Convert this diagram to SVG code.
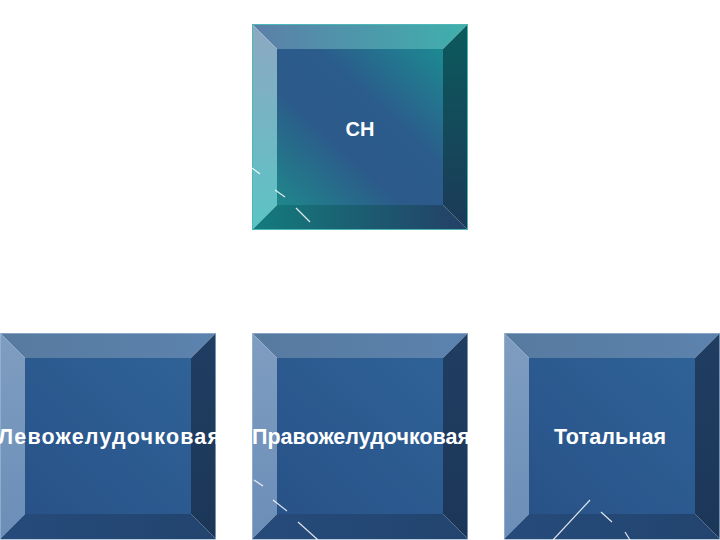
<svg xmlns="http://www.w3.org/2000/svg" width="720" height="540" viewBox="0 0 720 540">
  <defs>
    <!-- top (teal) box -->
    <linearGradient id="tTop" x1="0" y1="0" x2="1" y2="0">
      <stop offset="0" stop-color="#5c7fa8"/>
      <stop offset="1" stop-color="#3fb0ad"/>
    </linearGradient>
    <linearGradient id="tLeft" x1="0" y1="0" x2="0" y2="1">
      <stop offset="0" stop-color="#8ea8c2"/>
      <stop offset="1" stop-color="#5ac4c4"/>
    </linearGradient>
    <linearGradient id="tRight" x1="0" y1="0" x2="0" y2="1">
      <stop offset="0" stop-color="#0b5a5c"/>
      <stop offset="1" stop-color="#1c3a58"/>
    </linearGradient>
    <linearGradient id="tBottom" x1="0" y1="0" x2="1" y2="0">
      <stop offset="0" stop-color="#137c7d"/>
      <stop offset="1" stop-color="#243f66"/>
    </linearGradient>
    <linearGradient id="tFace" x1="1" y1="0" x2="0" y2="1">
      <stop offset="0" stop-color="#1d8a92"/>
      <stop offset="0.38" stop-color="#2b5c8b"/>
      <stop offset="0.62" stop-color="#2c5a8a"/>
      <stop offset="1" stop-color="#1f878b"/>
    </linearGradient>
    <!-- bottom (blue) boxes -->
    <linearGradient id="bTop" x1="0" y1="0" x2="1" y2="0">
      <stop offset="0" stop-color="#577a9f"/>
      <stop offset="1" stop-color="#5c83ae"/>
    </linearGradient>
    <linearGradient id="bLeft" x1="0" y1="0" x2="0" y2="1">
      <stop offset="0" stop-color="#7f9dc0"/>
      <stop offset="1" stop-color="#6b8eb8"/>
    </linearGradient>
    <linearGradient id="bRight" x1="0" y1="0" x2="0" y2="1">
      <stop offset="0" stop-color="#203e62"/>
      <stop offset="1" stop-color="#1c3658"/>
    </linearGradient>
    <linearGradient id="bBottom" x1="0" y1="0" x2="1" y2="0">
      <stop offset="0" stop-color="#264b7b"/>
      <stop offset="1" stop-color="#22446e"/>
    </linearGradient>
    <linearGradient id="bFace" x1="1" y1="0" x2="0" y2="1">
      <stop offset="0" stop-color="#2f6297"/>
      <stop offset="1" stop-color="#285288"/>
    </linearGradient>
  </defs>
  <style>
    .lbl { font-family: "Liberation Sans", Arial, sans-serif; font-weight: bold; fill: #ffffff; }
    .glint { stroke: #ffffff; stroke-width: 1.2; stroke-opacity: 0.85; fill: none; }
    .tOut { fill: none; stroke: #4db6b6; stroke-width: 1; }
    .bOut { fill: none; stroke: #9db8d4; stroke-width: 1; stroke-opacity: 0.7; }
  </style>
  <rect width="720" height="540" fill="#ffffff"/>

  <g id="connectors"/>

  <g id="node-sn">
    <polygon points="252,24 468,24 443,49 277,49" fill="url(#tTop)"/>
    <polygon points="252,24 277,49 277,205 252,230" fill="url(#tLeft)"/>
    <polygon points="468,24 468,230 443,205 443,49" fill="url(#tRight)"/>
    <polygon points="252,230 277,205 443,205 468,230" fill="url(#tBottom)"/>
    <rect x="277" y="49" width="166" height="156" fill="url(#tFace)"/>
    <rect class="tOut" x="252.5" y="24.5" width="215" height="205"/>
    <line class="glint" x1="252" y1="168" x2="260" y2="174"/>
    <line class="glint" x1="275" y1="190" x2="285" y2="197"/>
    <line class="glint" x1="296" y1="208" x2="310" y2="222"/>
    <text class="lbl" x="360" y="136" font-size="20" text-anchor="middle">СН</text>
  </g>

  <g id="node-left">
    <polygon points="0,333 216,333 191,358 25,358" fill="url(#bTop)"/>
    <polygon points="0,333 25,358 25,514 0,539" fill="url(#bLeft)"/>
    <polygon points="216,333 216,539 191,514 191,358" fill="url(#bRight)"/>
    <polygon points="0,539 25,514 191,514 216,539" fill="url(#bBottom)"/>
    <rect x="25" y="358" width="166" height="156" fill="url(#bFace)"/>
    <rect class="bOut" x="0.5" y="333.5" width="215" height="206"/>
    <text class="lbl" x="-2" y="444" font-size="21.5" textLength="222" lengthAdjust="spacing">Левожелудочковая</text>
  </g>

  <g id="node-right-ventricular">
    <polygon points="252,333 468,333 443,358 277,358" fill="url(#bTop)"/>
    <polygon points="252,333 277,358 277,514 252,539" fill="url(#bLeft)"/>
    <polygon points="468,333 468,539 443,514 443,358" fill="url(#bRight)"/>
    <polygon points="252,539 277,514 443,514 468,539" fill="url(#bBottom)"/>
    <rect x="277" y="358" width="166" height="156" fill="url(#bFace)"/>
    <rect class="bOut" x="252.5" y="333.5" width="215" height="206"/>
    <line class="glint" x1="254" y1="480" x2="263" y2="486"/>
    <line class="glint" x1="273" y1="500" x2="287" y2="511"/>
    <line class="glint" x1="298" y1="522" x2="318" y2="540"/>
    <text class="lbl" x="252" y="444" font-size="21.5" textLength="218" lengthAdjust="spacing">Правожелудочковая</text>
  </g>

  <g id="node-total">
    <polygon points="504,333 720,333 695,358 529,358" fill="url(#bTop)"/>
    <polygon points="504,333 529,358 529,514 504,539" fill="url(#bLeft)"/>
    <polygon points="720,333 720,539 695,514 695,358" fill="url(#bRight)"/>
    <polygon points="504,539 529,514 695,514 720,539" fill="url(#bBottom)"/>
    <rect x="529" y="358" width="166" height="156" fill="url(#bFace)"/>
    <rect class="bOut" x="504.5" y="333.5" width="215" height="206"/>
    <line class="glint" x1="553" y1="540" x2="590" y2="500"/>
    <line class="glint" x1="601" y1="512" x2="612" y2="522"/>
    <line class="glint" x1="625" y1="532" x2="630" y2="540"/>
    <text class="lbl" x="554" y="444" font-size="21.5" textLength="112" lengthAdjust="spacing">Тотальная</text>
  </g>
</svg>
